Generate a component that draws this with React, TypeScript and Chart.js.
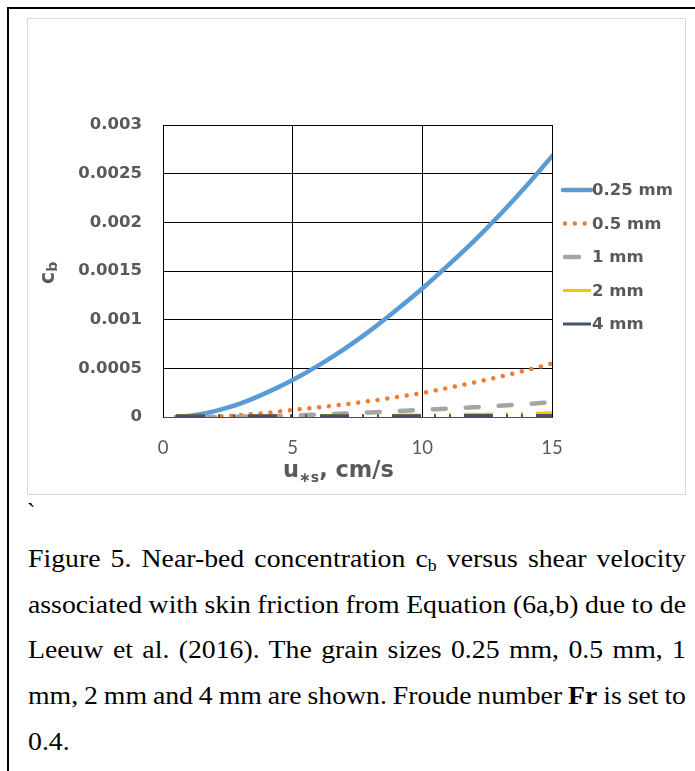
import React, { useEffect, useRef } from "react";
import { Chart, registerables } from "chart.js";

Chart.register(...registerables);

// ---- data ----
const shearVelocity = [0.5, 1, 1.5, 2, 3, 4, 5, 6, 7, 8, 9, 10, 11, 12, 13, 14, 15];
const grainLabels = ["0.25 mm", "0.5 mm", "1 mm", "2 mm", "4 mm"];
const cb025 = [0, 0.00001, 0.00003, 0.00006, 0.00014, 0.00025, 0.00038, 0.00053, 0.0007, 0.00089, 0.0011, 0.00132, 0.00156, 0.00181, 0.00208, 0.00237, 0.00268];
const cb05 = [null, null, 0, 0.000005, 0.00002, 0.000042, 0.000073, 0.0001, 0.00013, 0.000165, 0.000205, 0.000247, 0.0003, 0.000355, 0.000415, 0.00048, 0.00055];
const cb1 = [null, null, 0, 0.000001, 0.000003, 0.000008, 0.000015, 0.000025, 0.000036, 0.000047, 0.00006, 0.000073, 0.000087, 0.0001, 0.000115, 0.000133, 0.000153];
const cb2 = [0.000012, 0.000012, 0.000012, 0.000012, 0.000013, 0.000013, 0.000014, 0.000015, 0.000016, 0.000017, 0.000019, 0.000021, 0.000024, 0.000028, 0.000032, 0.000037, 0.000043];
const cb4 = [0.000012, 0.000012, 0.000012, 0.000012, 0.000012, 0.000012, 0.000013, 0.000013, 0.000013, 0.000013, 0.000014, 0.000014, 0.000014, 0.000015, 0.000015, 0.000016, 0.000016];
const xTickLabels = ["0", "5", "10", "15"];
const yTickLabels = ["0", "0.0005", "0.001", "0.0015", "0.002", "0.0025", "0.003"];

const TEXT = "#595959";
const RED = "#ff0000";
const BOLD = "'DejaVu Sans', sans-serif";

const toPoints = (arr: (number | null)[]) => shearVelocity.map((u, i) => ({ x: u, y: arr[i] }));

const decorPlugin = {
  id: "decor",
  afterDraw(chart: any) {
    const { ctx, chartArea } = chart;
    const ds = chart.data.datasets;
    ctx.save();
    // legend
    const lx0 = chartArea.right + 11;
    const lx1 = chartArea.right + 39;
    let ly = chartArea.top + 65;
    ctx.font = `bold 16.5px ${BOLD}`;
    ctx.textBaseline = "middle";
    ctx.textAlign = "left";
    ds.forEach((d: any) => {
      ctx.save();
      ctx.strokeStyle = d.borderColor;
      ctx.lineWidth = d.borderWidth;
      ctx.lineCap = d.borderCapStyle || "butt";
      ctx.setLineDash(d.legendDash || d.borderDash || []);
      ctx.beginPath();
      const sx = d.legendStart !== undefined ? lx0 + d.legendStart : lx0;
      const ex = d.legendEnd !== undefined ? lx0 + d.legendEnd : lx1;
      ctx.moveTo(sx, ly);
      ctx.lineTo(ex, ly);
      ctx.stroke();
      ctx.restore();
      ctx.fillStyle = TEXT;
      ctx.fillText(d.label, lx1 + 1, ly + 1);
      ly += 33.5;
    });

    // x title: u*s, cm/s
    ctx.fillStyle = TEXT;
    ctx.textBaseline = "alphabetic";
    const big = `bold 22.5px ${BOLD}`;
    const small = `bold 14px ${BOLD}`;
    ctx.font = big;
    const wU = ctx.measureText("u").width;
    const wRest = ctx.measureText(", cm/s").width;
    ctx.font = small;
    const wSub = ctx.measureText("\u2217s").width;
    const total = wU + wSub + wRest;
    const cx = (chartArea.left + chartArea.right) / 2 - 19;
    let tx = cx - total / 2;
    const by = chartArea.bottom + 60;
    ctx.font = big;
    ctx.fillText("u", tx, by);
    tx += wU;
    ctx.font = small;
    ctx.fillText("\u2217s", tx, by + 5);
    tx += wSub;
    ctx.font = big;
    ctx.fillText(", cm/s", tx, by);

    // y title: c_b (rotated)
    const cy = (chartArea.top + chartArea.bottom) / 2 + 2;
    ctx.translate(26, cy);
    ctx.rotate(-Math.PI / 2);
    ctx.font = `bold 21px ${BOLD}`;
    const wc = ctx.measureText("c").width;
    ctx.font = small;
    const wb = ctx.measureText("b").width;
    const sx = -(wc + wb) / 2;
    ctx.font = `bold 21px ${BOLD}`;
    ctx.fillText("c", sx, 0);
    ctx.font = small;
    ctx.fillText("b", sx + wc, 3);
    ctx.restore();
  },
};

export default function App() {
  const ref = useRef<HTMLCanvasElement | null>(null);

  useEffect(() => {
    if (!ref.current) return;
    const chart = new Chart(ref.current, {
      type: "line",
      data: {
        datasets: [
          {
            label: grainLabels[0],
            data: toPoints(cb025),
            borderColor: "#5B9BD5",
            borderWidth: 4.5,
            borderCapStyle: "round",
            order: 5,
          },
          {
            label: grainLabels[1],
            data: toPoints(cb05),
            borderColor: "#ED7D31",
            borderWidth: 4.5,
            borderCapStyle: "round",
            borderDash: [0.01, 9.8],
            legendStart: 2,
            order: 4,
          },
          {
            label: grainLabels[2],
            data: toPoints(cb1),
            borderColor: "#A5A5A5",
            borderWidth: 4.5,
            borderCapStyle: "round",
            borderDash: [13, 20],
            legendStart: 2,
            legendEnd: 16,
            legendDash: [],
            order: 3,
          },
          {
            label: grainLabels[3],
            data: toPoints(cb2),
            borderColor: "#FFC000",
            borderWidth: 3,
            borderDash: [29, 13, 2, 13, 2, 13],
            order: 2,
          },
          {
            label: grainLabels[4],
            data: toPoints(cb4),
            borderColor: "#44546A",
            borderWidth: 3,
            borderDash: [29, 13, 2, 13, 2, 13],
            order: 1,
          },
        ] as any,
      },
      options: {
        animation: false,
        responsive: false,
        devicePixelRatio: 1,
        spanGaps: false,
        elements: {
          point: { radius: 0, hoverRadius: 0 },
          line: { cubicInterpolationMode: "monotone" },
        },
        layout: { padding: { top: 106, right: 133, bottom: 0, left: 0 } },
        plugins: {
          legend: { display: false },
          tooltip: { enabled: false },
          title: { display: false },
        },
        scales: {
          x: {
            type: "linear",
            min: 0,
            max: 15,
            ticks: {
              stepSize: 5,
              autoSkip: false,
              maxRotation: 0,
              padding: 20,
              color: TEXT,
              font: { family: "Lato, sans-serif", size: 18.5, weight: "normal" },
              callback: (_v: any, i: number) => xTickLabels[i],
            },
            grid: { color: "#000", lineWidth: 1, drawTicks: false },
            border: { color: RED, width: 1 },
            afterFit: (s: any) => {
              s.height = 77;
            },
          },
          y: {
            type: "linear",
            min: 0,
            max: 0.003,
            ticks: {
              stepSize: 0.0005,
              padding: 21,
              color: TEXT,
              font: { family: BOLD, size: 16.5, weight: "bold" },
              callback: (_v: any, i: number) => yTickLabels[i],
            },
            grid: {
              color: (c: any) => (c.tick && c.tick.value === 0 ? RED : "#000"),
              lineWidth: 1,
              drawTicks: false,
            },
            border: { color: "#000", width: 1 },
            afterFit: (s: any) => {
              s.width = 135;
            },
          },
        },
      } as any,
      plugins: [decorPlugin],
    });
    return () => chart.destroy();
  }, []);

  const lineStyle: React.CSSProperties = {
    textAlign: "justify",
    textAlignLast: "justify",
    whiteSpace: "nowrap",
  };
  const sub: React.CSSProperties = { fontSize: 16, lineHeight: 0, verticalAlign: "-4px" };
  const STRETCH = 1.11;

  return (
    <div style={{ position: "absolute", left: 0, top: 0, width: 695, height: 771, overflow: "hidden", background: "#fff" }}>
      <div
        style={{
          position: "absolute",
          left: 7,
          top: 7,
          width: 720,
          height: 800,
          borderTop: "2px solid #000",
          borderLeft: "2px solid #000",
        }}
      />
      <div
        style={{
          position: "absolute",
          left: 27,
          top: 18,
          width: 659,
          height: 477,
          boxSizing: "border-box",
          border: "1px solid #d9d9d9",
        }}
      />
      <canvas
        ref={ref}
        width={657}
        height={475}
        style={{ position: "absolute", left: 28, top: 19, width: 657, height: 475 }}
      />
      <div
        style={{
          position: "absolute",
          left: 27,
          top: 490,
          fontFamily: "'Liberation Serif', 'Times New Roman', serif",
          fontSize: 25,
          lineHeight: "45.7px",
        }}
      >
        `
      </div>
      <div
        style={{
          position: "absolute",
          left: 28,
          top: 536,
          width: 658 / STRETCH,
          transform: `scaleX(${STRETCH})`,
          transformOrigin: "0 0",
          fontFamily: "'Liberation Serif', 'Times New Roman', serif",
          fontSize: 25,
          lineHeight: "45.7px",
          wordSpacing: "-3px",
          color: "#000",
        }}
      >
        <div style={lineStyle}>
          Figure 5. Near-bed concentration c<sub style={sub}>b</sub> versus shear velocity
        </div>
        <div style={lineStyle}>associated with skin friction from Equation (6a,b) due to de</div>
        <div style={lineStyle}>Leeuw et al. (2016). The grain sizes 0.25 mm, 0.5 mm, 1</div>
        <div style={lineStyle}>
          mm, 2 mm and 4 mm are shown. Froude number <b>Fr</b> is set to
        </div>
        <div style={{ wordSpacing: 0 }}>0.4.</div>
      </div>
    </div>
  );
}
